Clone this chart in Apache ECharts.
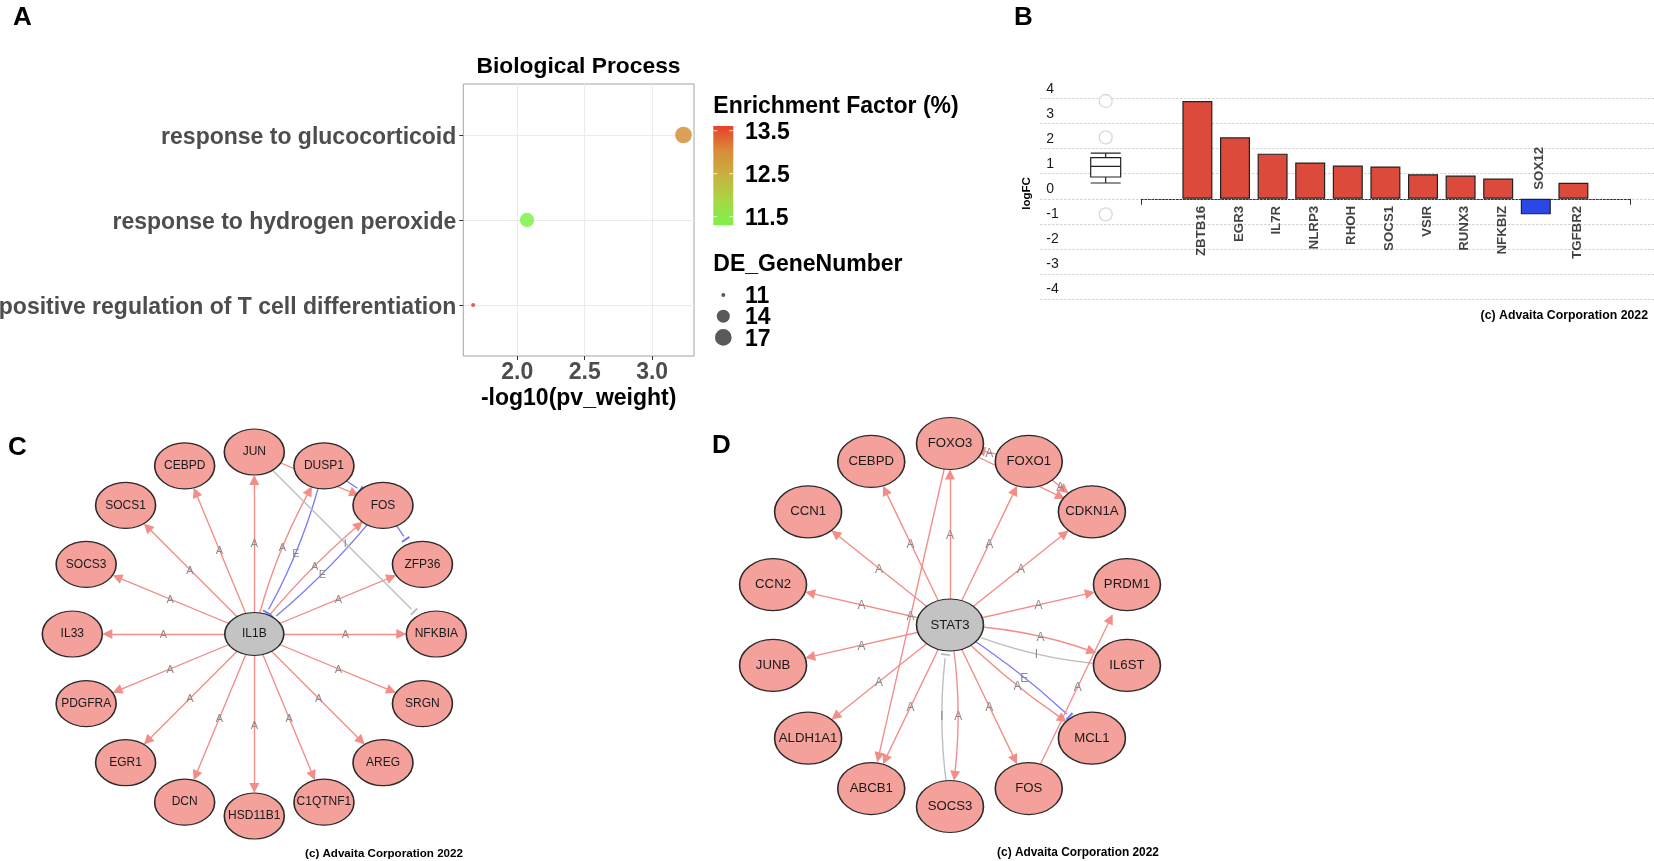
<!DOCTYPE html>
<html><head><meta charset="utf-8">
<script src="https://cdn.jsdelivr.net/npm/echarts@6/dist/echarts.min.js"></script>
<style>html,body{margin:0;padding:0;background:#fff}#c{width:1654px;height:861px}</style>
</head><body><div id="c"></div>
<script>
// ================= DATA =================
// Panel A
const termsA = ['response to glucocorticoid', 'response to hydrogen peroxide', 'positive regulation of T cell differentiation'];
const pvWeightA = [3.232, 2.072, 1.673];
const enrichA = [12.95, 11.30, 13.61];
const geneNumA = [17, 15, 11];
const xTicksA = [2.0, 2.5, 3.0];
const colorTicksA = [13.5, 12.5, 11.5];
const sizeTicksA = [11, 14, 17];

// Panel B
const genesB = ['ZBTB16', 'EGR3', 'IL7R', 'NLRP3', 'RHOH', 'SOCS1', 'VSIR', 'RUNX3', 'NFKBIZ', 'SOX12', 'TGFBR2'];
const logFCB = [3.90, 2.45, 1.80, 1.45, 1.33, 1.29, 0.98, 0.93, 0.81, -0.62, 0.64];
const boxB = [0.63, 0.87, 1.29, 1.64, 1.82];
const outliersB = [3.90, 2.45, -0.62];

// Panel C (IL1B network) : [source, target, type, label, curveness]
const centerC = 'IL1B';
const ringC = ['JUN', 'DUSP1', 'FOS', 'ZFP36', 'NFKBIA', 'SRGN', 'AREG', 'C1QTNF1', 'HSD11B1', 'DCN', 'EGR1', 'PDGFRA', 'IL33', 'SOCS3', 'SOCS1', 'CEBPD'];
const linksC = [
  ['IL1B', 'JUN', 'A', 'A', 0], ['IL1B', 'DUSP1', 'A', 'A', 0.08], ['IL1B', 'FOS', 'A', 'A', 0.06],
  ['IL1B', 'ZFP36', 'A', 'A', 0], ['IL1B', 'NFKBIA', 'A', 'A', 0], ['IL1B', 'SRGN', 'A', 'A', 0],
  ['IL1B', 'AREG', 'A', 'A', 0], ['IL1B', 'C1QTNF1', 'A', 'A', 0], ['IL1B', 'HSD11B1', 'A', 'A', 0],
  ['IL1B', 'DCN', 'A', 'A', 0], ['IL1B', 'EGR1', 'A', 'A', 0], ['IL1B', 'PDGFRA', 'A', 'A', 0],
  ['IL1B', 'IL33', 'A', 'A', 0], ['IL1B', 'SOCS3', 'A', 'A', 0], ['IL1B', 'SOCS1', 'A', 'A', 0],
  ['IL1B', 'CEBPD', 'A', 'A', 0],
  ['DUSP1', 'IL1B', 'E', 'E', 0.08], ['FOS', 'IL1B', 'E', 'E', 0.06],
  ['JUN', 'FOS', 'A', 'A', 0], ['DUSP1', 'FOS', 'E', '', 0], ['FOS', 'ZFP36', 'E', '', 0],
  ['JUN', 'NFKBIA', 'I', 'I', 0]
];

// Panel D (STAT3 network)
const centerD = 'STAT3';
const ringD = ['FOXO3', 'FOXO1', 'CDKN1A', 'PRDM1', 'IL6ST', 'MCL1', 'FOS', 'SOCS3', 'ABCB1', 'ALDH1A1', 'JUNB', 'CCN2', 'CCN1', 'CEBPD'];
const linksD = [
  ['STAT3', 'FOXO3', 'A', 'A', 0], ['STAT3', 'FOXO1', 'A', 'A', 0], ['STAT3', 'CDKN1A', 'A', 'A', 0],
  ['STAT3', 'PRDM1', 'A', 'A', 0], ['STAT3', 'IL6ST', 'A', 'A', 0.1], ['STAT3', 'MCL1', 'A', 'A', -0.06],
  ['STAT3', 'FOS', 'A', 'A', 0], ['STAT3', 'SOCS3', 'A', 'A', 0.09], ['STAT3', 'ABCB1', 'A', 'A', 0],
  ['STAT3', 'ALDH1A1', 'A', 'A', 0], ['STAT3', 'JUNB', 'A', 'A', 0], ['STAT3', 'CCN2', 'A', 'A', 0],
  ['STAT3', 'CCN1', 'A', 'A', 0], ['STAT3', 'CEBPD', 'A', 'A', 0],
  ['IL6ST', 'STAT3', 'I', 'I', 0.1], ['SOCS3', 'STAT3', 'I', 'I', 0.09], ['STAT3', 'MCL1', 'E', 'E', 0.06],
  ['FOXO3', 'ABCB1', 'A', 'A', 0], ['FOXO1', 'FOXO3', 'A', 'A', 0], ['FOXO3', 'CDKN1A', 'A', 'A', 0],
  ['FOXO1', 'CDKN1A', 'A', 'A', 0], ['FOS', 'PRDM1', 'A', 'A', 0]
];

// ================= STYLE / LAYOUT =================
const FF = "'Liberation Sans', Arial, Helvetica, sans-serif";
const chart = echarts.init(document.getElementById('c'), null, {renderer: 'canvas', width: 1654, height: 861});

const efMin = Math.min(...enrichA), efMax = Math.max(...enrichA);
const efPalette = ['#7CF24A', '#A6D844', '#C6B240', '#D98C3A', '#EA3F2A'];
const gnMin = Math.min(...sizeTicksA), gnMax = Math.max(...sizeTicksA);
const sizeA = v => 4 + 12.7 * Math.sqrt(Math.max(0, v - gnMin) / (gnMax - gnMin));

const gA = {left: 463.3, top: 84, width: 230.7, height: 272};
const cb = {x: 713.3, y: 126, w: 20, h: 99.3};
const cbY = v => cb.y + cb.h - (v - efMin) / (efMax - efMin) * cb.h;

const PINK = '#F4A19C', GRAYN = '#C3C3C3';
const EDGE_COLOR = {A: '#F28D88', E: '#7B7BF2', I: '#BDBDBD'};
const BAR = 'path://M0,0 L10,0 L10,2.2 L0,2.2 Z M4.95,10 L5.05,10 L5,9.9 Z';
const ELLIPSE = 'path://M50,0 C77.6,0 100,22.4 100,50 C100,77.6 77.6,100 50,100 C22.4,100 0,77.6 0,50 C0,22.4 22.4,0 50,0 Z';
const HEAD = 10;

function txt(x, y, text, size, o) {
  o = o || {};
  const dy = o.rotation ? 0 : size * 0.08;
  return {type: 'text', x: x, y: y + dy, rotation: o.rotation || 0, silent: true, z: 10,
    style: {text: text, font: (o.weight || 'bold') + ' ' + size + 'px ' + FF, fill: o.fill || '#000',
      align: o.align || 'left', verticalAlign: 'middle'}};
}

function net(center, ring, links, pi, cfg) {
  const N = ring.length;
  const pos = n => n === center ? [0, 0] : [1, ring.indexOf(n)];
  const phiOf = n => n === center ? cfg.centerPhi : Math.PI / 2 - 2 * Math.PI * ring.indexOf(n) / N;
  const ell = (w, h, phi) => (w / 2) * (h / 2) / Math.hypot((h / 2) * Math.cos(phi), (w / 2) * Math.sin(phi));
  const sizeOf = n => n === center ? cfg.centerSize : cfg.ringSize;
  const names = [center].concat(ring);
  const edgeNodes = names.map(n => {
    const s = sizeOf(n);
    return {name: n, value: pos(n), symbolSize: 2 * ell(s[0], s[1], phiOf(n)) + HEAD};
  });
  const edgeLinks = links.map(l => ({
    source: l[0], target: l[1],
    symbol: ['none', l[2] === 'A' ? 'triangle' : BAR],
    symbolSize: [0, l[2] === 'A' ? HEAD : 9],
    lineStyle: {color: EDGE_COLOR[l[2]], width: 1.35, opacity: 1, curveness: l[4]}
  }));
  const edges = {
    type: 'graph', coordinateSystem: 'polar', polarIndex: pi, layout: 'none', z: 2, silent: true,
    data: edgeNodes, links: edgeLinks, itemStyle: {opacity: 0}, label: {show: false},
    edgeSymbol: ['none', 'triangle'], emphasis: {disabled: true}
  };
  const labels = {
    type: 'custom', coordinateSystem: 'polar', polarIndex: pi, z: 3, silent: true, clip: false,
    data: links.map(l => pos(l[0]).concat(pos(l[1])).concat([l[4]])),
    renderItem: function (params, api) {
      const l = links[params.dataIndex];
      if (!l[3]) return null;
      const p1 = api.coord([api.value(0), api.value(1)]);
      const p2 = api.coord([api.value(2), api.value(3)]);
      const c = api.value(4);
      const cp = [(p1[0] + p2[0]) / 2 - (p1[1] - p2[1]) * c, (p1[1] + p2[1]) / 2 - (p2[0] - p1[0]) * c];
      const mx = 0.25 * p1[0] + 0.5 * cp[0] + 0.25 * p2[0];
      const my = 0.25 * p1[1] + 0.5 * cp[1] + 0.25 * p2[1];
      return {type: 'text', x: mx, y: my + 1,
        style: {text: l[3], fill: '#8A8A8A', font: cfg.edgeFont + 'px ' + FF, align: 'center', verticalAlign: 'middle'}};
    }
  };
  const nodes = {
    type: 'graph', coordinateSystem: 'polar', polarIndex: pi, layout: 'none', z: 4, silent: true,
    symbol: ELLIPSE,
    data: names.map(n => ({name: n, value: pos(n), symbolSize: sizeOf(n),
      itemStyle: {color: n === center ? GRAYN : PINK}})),
    links: [],
    itemStyle: {borderColor: '#2A2A2A', borderWidth: 1.4},
    label: {show: true, position: 'inside', color: '#1A1A1A', fontSize: cfg.fontSize, fontFamily: FF},
    emphasis: {disabled: true}
  };
  return [edges, labels, nodes];
}

const netC = net(centerC, ringC, linksC, 0, {ringSize: [60, 46], centerSize: [59, 43], centerPhi: 0.96, fontSize: 12, edgeFont: 11});
const netD = net(centerD, ringD, linksD, 1, {ringSize: [67, 52], centerSize: [67, 52], centerPhi: 0.87, fontSize: 13.2, edgeFont: 12});

const hidden = {show: false};

// graphic (titles, legends, letters)
const graphics = [
  txt(13, 16, 'A', 26), txt(1014, 16, 'B', 26), txt(8, 446, 'C', 26), txt(712, 444, 'D', 26),
  txt(578.5, 65, 'Biological Process', 22.8, {align: 'center'}),
  txt(713.3, 105, 'Enrichment Factor (%)', 23),
  {type: 'rect', silent: true, shape: {x: cb.x, y: cb.y, width: cb.w, height: cb.h},
    style: {fill: {type: 'linear', x: 0, y: 0, x2: 0, y2: 1,
      colorStops: efPalette.slice().reverse().map((c, i) => ({offset: i / (efPalette.length - 1), color: c}))}}},
  txt(713.3, 263, 'DE_GeneNumber', 23),
  txt(1027, 193.5, 'logFC', 11.5, {rotation: Math.PI / 2, align: 'center'}),
  txt(1648, 315, '(c) Advaita Corporation 2022', 12.3, {align: 'right'}),
  txt(384, 853, '(c) Advaita Corporation 2022', 11.6, {align: 'center'}),
  txt(1078, 852, '(c) Advaita Corporation 2022', 11.9, {align: 'center'})
];
colorTicksA.forEach(v => {
  const y = cbY(v);
  graphics.push({type: 'line', silent: true, shape: {x1: cb.x, y1: y, x2: cb.x + 4, y2: y}, style: {stroke: 'rgba(255,255,255,0.8)', lineWidth: 1}});
  graphics.push({type: 'line', silent: true, shape: {x1: cb.x + cb.w - 4, y1: y, x2: cb.x + cb.w, y2: y}, style: {stroke: 'rgba(255,255,255,0.8)', lineWidth: 1}});
  graphics.push(txt(745, y, v.toFixed(1), 23));
});
sizeTicksA.forEach((v, i) => {
  const y = 295 + i * 21.2;
  graphics.push({type: 'circle', silent: true, shape: {cx: 723.3, cy: y, r: sizeA(v) / 2}, style: {fill: '#595959'}});
  graphics.push(txt(745, y, String(v), 23));
});

const GB = {outerBoundsMode: 'none', containLabel: false};
const option = {
  animation: false,
  backgroundColor: '#fff',
  textStyle: {fontFamily: FF},
  grid: [
    Object.assign({left: gA.left, top: gA.top, width: gA.width, height: gA.height, show: true, borderColor: '#A3A3A3', borderWidth: 1, backgroundColor: '#fff'}, GB),
    Object.assign({left: 1040.3, top: 98.5, width: 613.7, height: 200.6}, GB),
    Object.assign({left: 1178.6, top: 98.5, width: 413.6, height: 200.6}, GB),
    Object.assign({left: 1141.3, top: 98.5, width: 489.3, height: 200.6}, GB),
    Object.assign({left: 1075.7, top: 98.5, width: 60, height: 200.6}, GB)
  ],
  xAxis: [
    {gridIndex: 0, type: 'value', min: 1.6, max: 3.31,
      axisLine: hidden,
      axisTick: {show: true, length: 4, customValues: xTicksA, lineStyle: {color: '#333'}},
      axisLabel: {customValues: xTicksA, formatter: v => v.toFixed(1), fontSize: 23, fontWeight: 'bold', color: '#4D4D4D', margin: 5},
      splitLine: {show: true, lineStyle: {color: '#EBEBEB', width: 1.1}},
      name: '-log10(pv_weight)', nameLocation: 'middle', nameGap: 31,
      nameTextStyle: {fontSize: 23, fontWeight: 'bold', color: '#000'}},
    {gridIndex: 1, type: 'value', min: 0, max: 1, show: false},
    {gridIndex: 2, type: 'category', data: genesB, show: false},
    {gridIndex: 3, type: 'value', min: 0, max: 1, interval: 1,
      axisLine: {show: true, onZero: true, lineStyle: {color: '#333', width: 1, type: [2, 1.5]}},
      axisTick: {show: true, length: 6, lineStyle: {color: '#333'}},
      axisLabel: hidden, splitLine: hidden},
    {gridIndex: 4, type: 'category', data: ['logFC'], show: false}
  ],
  yAxis: [
    {gridIndex: 0, type: 'value', inverse: true, min: 0.4, max: 3.6,
      axisLine: hidden,
      axisTick: {show: true, length: 4, customValues: [1, 2, 3], lineStyle: {color: '#333'}},
      axisLabel: {customValues: [1, 2, 3], formatter: v => '{t|' + termsA[Math.round(v) - 1] + '}', margin: 7,
        rich: {t: {fontSize: 23, fontWeight: 'bold', color: '#4D4D4D', fontFamily: FF, padding: [6, 0, 0, 0]}}},
      splitLine: {show: true, lineStyle: {color: '#EBEBEB', width: 1.1}}},
    {gridIndex: 1, type: 'value', min: -4, max: 4, interval: 1,
      axisLine: hidden, axisTick: hidden,
      axisLabel: {inside: true, align: 'left', margin: 6, fontSize: 14, color: '#1A1A1A', verticalAlign: 'bottom', lineHeight: 15, padding: [0, 0, 2, 0]},
      splitLine: {show: true, lineStyle: {color: '#C9C9C9', width: 1, type: [2, 2]}}},
    {gridIndex: 2, type: 'value', min: -4, max: 4, show: false},
    {gridIndex: 3, type: 'value', min: -4, max: 4, show: false},
    {gridIndex: 4, type: 'value', min: -4, max: 4, show: false}
  ],
  polar: [
    {center: [254.3, 634], radius: 182},
    {center: [950, 625], radius: 181.5}
  ],
  angleAxis: [
    {polarIndex: 0, type: 'value', min: 0, max: ringC.length, startAngle: 90, clockwise: true, show: false},
    {polarIndex: 1, type: 'value', min: 0, max: ringD.length, startAngle: 90, clockwise: true, show: false}
  ],
  radiusAxis: [
    {polarIndex: 0, type: 'value', min: 0, max: 1, show: false},
    {polarIndex: 1, type: 'value', min: 0, max: 1, show: false}
  ],
  visualMap: [{type: 'continuous', show: false, seriesIndex: 0, dimension: 2, min: efMin, max: efMax, inRange: {color: efPalette}}],
  series: [
    {type: 'scatter', xAxisIndex: 0, yAxisIndex: 0, silent: true,
      data: termsA.map((t, i) => [pvWeightA[i], i + 1, enrichA[i], geneNumA[i]]),
      symbolSize: v => sizeA(v[3]), itemStyle: {opacity: 0.85}},
    {type: 'bar', xAxisIndex: 2, yAxisIndex: 2, silent: true, barWidth: 30,
      data: logFCB.map(v => ({value: v, itemStyle: {color: v < 0 ? '#2B47E6' : '#DC4A3B'}})),
      itemStyle: {borderColor: '#222', borderWidth: 1.2}},
    {type: 'scatter', xAxisIndex: 2, yAxisIndex: 2, silent: true, symbolSize: 0.1, itemStyle: {color: 'rgba(0,0,0,0)'},
      data: genesB.map((g, i) => ({name: g, value: [i, 0],
        label: logFCB[i] < 0 ? {align: 'left', offset: [9, 4]} : {align: 'right', offset: [-7, 4]}})),
      label: {show: true, formatter: '{b}', rotate: 90, position: 'inside', verticalAlign: 'middle', fontSize: 13.3, fontWeight: 'bold', color: '#111'}},
    {type: 'boxplot', xAxisIndex: 4, yAxisIndex: 4, silent: true, boxWidth: [30, 30],
      data: [boxB], itemStyle: {color: '#fff', borderColor: '#222', borderWidth: 1.2}},
    {type: 'scatter', xAxisIndex: 4, yAxisIndex: 4, silent: true, symbol: 'circle', symbolSize: 13,
      data: outliersB.map(v => [0, v]), itemStyle: {color: '#fff', borderColor: '#CFCFCF', borderWidth: 1.3}}
  ].concat(netC).concat(netD),
  graphic: graphics
};
chart.setOption(option);
</script></body></html>
